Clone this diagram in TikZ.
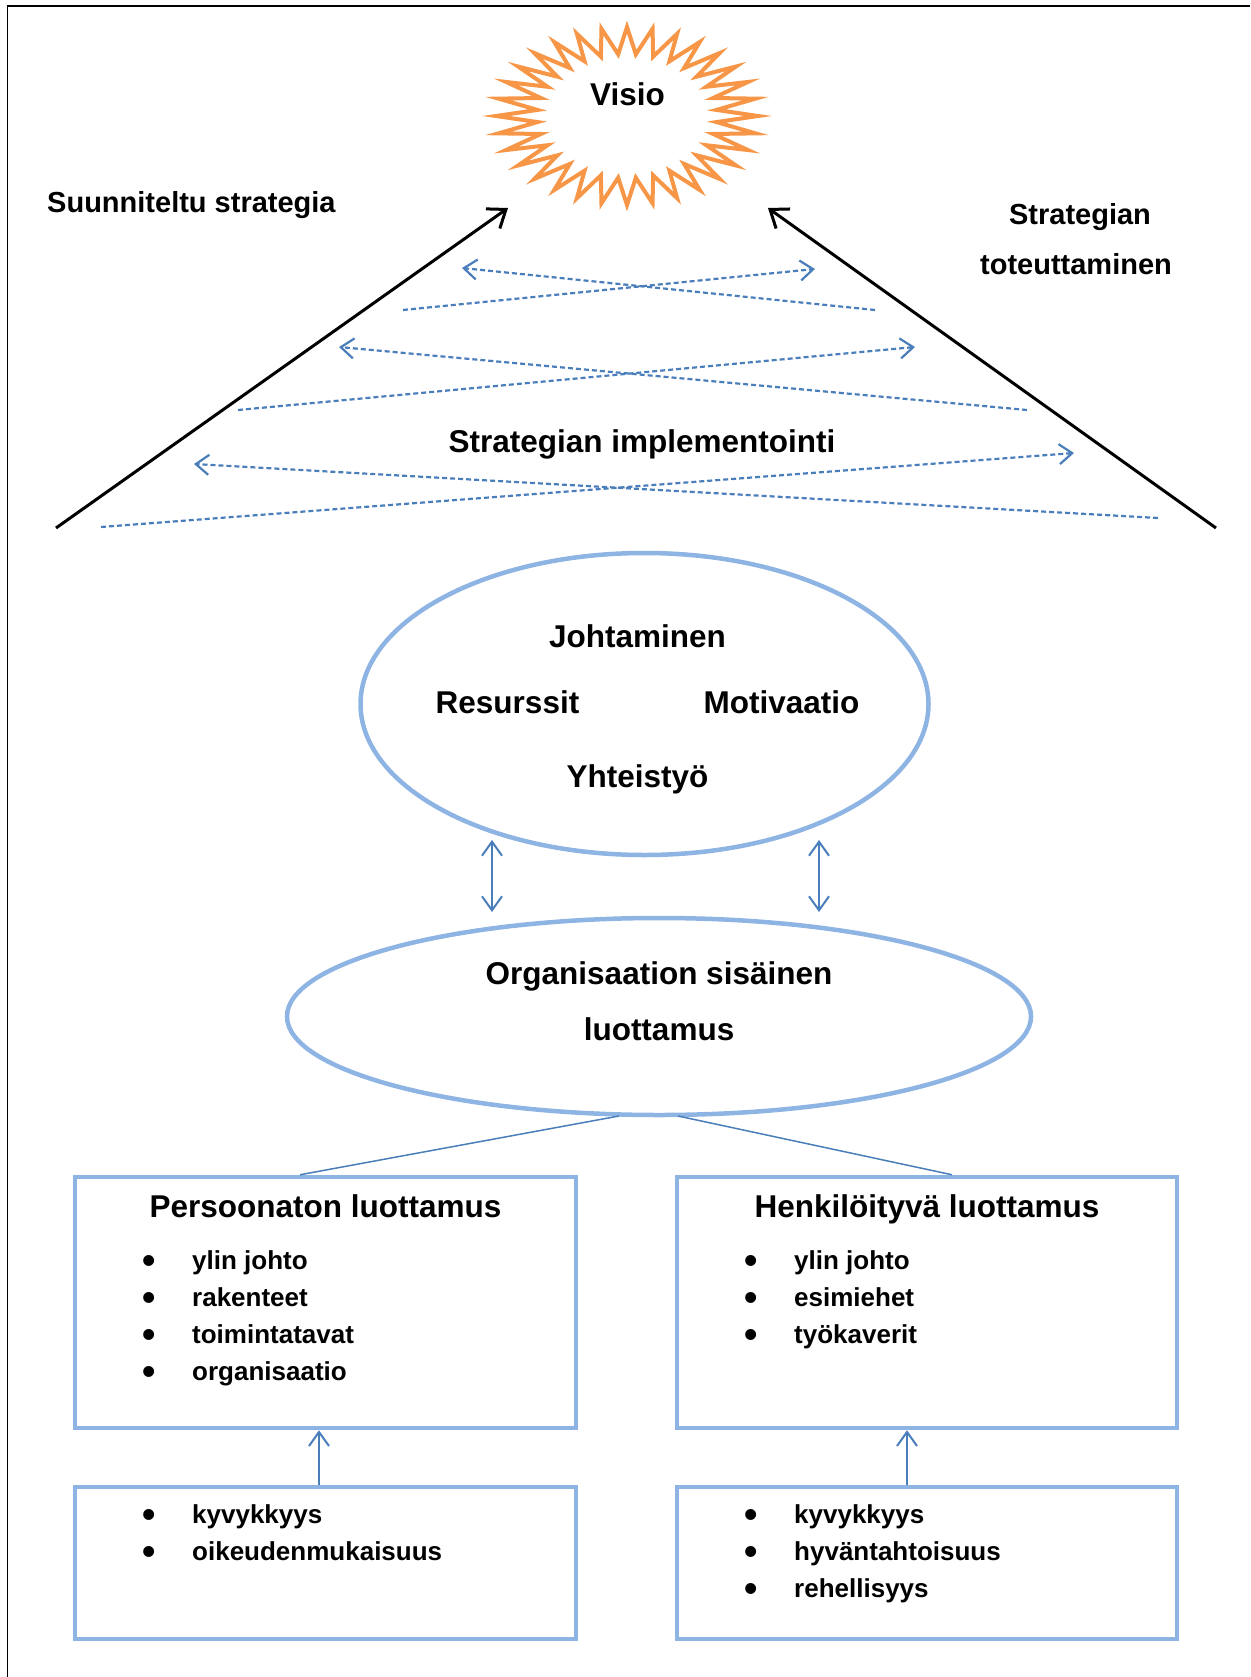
\documentclass[tikz,border=0pt]{standalone}
\usepackage{fontspec}
\setmainfont{Liberation Sans}
\usepackage{tikz}
\usetikzlibrary{shapes,arrows.meta,positioning,calc}

\definecolor{lineblue}{RGB}{74,126,187}
\definecolor{paleblue}{RGB}{142,180,227}
\definecolor{burstorange}{RGB}{247,150,70}

\newcommand{\dotmark}{\makebox[49.7pt][l]{\raisebox{-4.5pt}{\fontsize{38}{38}\selectfont\textbullet}}}

\begin{document}
\begin{tikzpicture}[x=1pt, y=-1pt,
    heading/.style={font=\fontsize{31.5}{38}\selectfont\bfseries, inner sep=0, anchor=base},
    sidetext/.style={font=\fontsize{29}{35}\selectfont\bfseries, inner sep=0, anchor=base},
    item/.style={font=\fontsize{26}{31}\selectfont\bfseries, inner sep=0, anchor=base west},
    oval/.style={ellipse, draw=paleblue, line width=4.5pt, inner sep=0},
    panel/.style={rectangle, draw=paleblue, line width=4.5pt, inner sep=0},
    strategy/.style={-{Straight Barb[length=16pt, width=24pt]}, line width=3pt},
    dasharrow/.style={-{Straight Barb[length=13pt, width=20pt]}, draw=lineblue, line width=2.2pt, dash pattern=on 5pt off 3pt},
    both/.style={{Straight Barb[length=14pt, width=20pt]}-{Straight Barb[length=14pt, width=20pt]}, draw=lineblue, line width=2pt},
    up/.style={-{Straight Barb[length=14pt, width=20pt]}, draw=lineblue, line width=2pt},
    conn/.style={draw=lineblue, line width=1.5pt}
]
\useasboundingbox (0,0) rectangle (1250,1677);
\draw[line width=1.5pt] (1250,6) -- (7.5,6) -- (7.5,1677);

\coordinate (burst) at (627,116);
\draw[burstorange, line width=4pt, line join=miter] ($(burst)+(0:131 and 89)$)
  \foreach \k [evaluate=\k as \rx using {mod(\k,2)==0 ? 131 : 90},
               evaluate=\k as \ry using {mod(\k,2)==0 ? 89 : 62}] in {1,...,63}
  { -- ($(burst)+({\k*5.625}:{\rx} and {\ry})$) } -- cycle;
\node[heading] (visio) at (627.5,106) {Visio};

\coordinate (planfoot) at (56,528);
\coordinate (plantip) at (508,208);
\coordinate (dofoot) at (1216,528);
\coordinate (dotip) at (768,208);
\draw[strategy] (planfoot) -- (plantip);
\draw[strategy] (dofoot) -- (dotip);

\node[sidetext, anchor=base west] (planned) at (47,213) {Suunniteltu strategia};
\node[sidetext] (done1) at (1080,225) {Strategian};
\node[sidetext] (done2) at (1076,275) {toteuttaminen};

\coordinate (a1) at (875,310);  \coordinate (b1) at (462,268);
\coordinate (c1) at (403,310);  \coordinate (e1) at (815,269);
\coordinate (a2) at (1027,410); \coordinate (b2) at (339,347);
\coordinate (c2) at (238,410);  \coordinate (e2) at (915,347);
\coordinate (a3) at (1158,518); \coordinate (b3) at (194,464);
\coordinate (c3) at (101,527);  \coordinate (e3) at (1074,453);
\foreach \i in {1,2,3} {
  \draw[dasharrow] (a\i) -- (b\i);
  \draw[dasharrow] (c\i) -- (e\i);
}
\node[heading] (impl) at (642,452) {Strategian implementointi};

\node[oval, minimum width=568pt, minimum height=302pt] (core) at (644.5,704) {};
\node[heading] (lead) at (637.5,647) {Johtaminen};
\node[heading] (res) at (507.5,713) {Resurssit};
\node[heading] (motiv) at (781.5,713) {Motivaatio};
\node[heading] (coop) at (637.5,787) {Yhteistyö};

\coordinate (u1) at (492,840); \coordinate (d1) at (492,912);
\coordinate (u2) at (819,840); \coordinate (d2) at (819,912);
\draw[both] (u1) -- (d1);
\draw[both] (u2) -- (d2);

\node[oval, minimum width=744pt, minimum height=197pt] (trust) at (659,1016.5) {};
\node[heading] (trust1) at (659,984) {Organisaation sisäinen};
\node[heading] (trust2) at (659,1040) {luottamus};

\node[panel, minimum width=501pt, minimum height=251pt] (impers) at (325.5,1302.5) {};
\node[panel, minimum width=500pt, minimum height=251pt] (pers) at (927,1302.5) {};
\node[panel, minimum width=501pt, minimum height=152pt] (impbase) at (325.5,1563) {};
\node[panel, minimum width=500pt, minimum height=152pt] (perbase) at (927,1563) {};

\coordinate (o1) at (619,1116);
\coordinate (o2) at (678,1116);
\draw[conn] (o1) -- ([xshift=-25.5pt]impers.north);
\draw[conn] (o2) -- ([xshift=25pt]pers.north);

\node[heading] (imptitle) at (325.5,1217) {Persoonaton luottamus};
\node[heading] (pertitle) at (927,1217) {Henkilöityvä luottamus};

\foreach \t [count=\i] in {ylin johto, rakenteet, toimintatavat, organisaatio}
  \node[item] (imp\i) at (142.3,{1232+37*\i}) {\dotmark\t};
\foreach \t [count=\i] in {ylin johto, esimiehet, työkaverit}
  \node[item] (per\i) at (744.3,{1232+37*\i}) {\dotmark\t};
\foreach \t [count=\i] in {kyvykkyys, oikeudenmukaisuus}
  \node[item] (impb\i) at (142.3,{1486+37*\i}) {\dotmark\t};
\foreach \t [count=\i] in {kyvykkyys, hyväntahtoisuus, rehellisyys}
  \node[item] (perb\i) at (744.3,{1486+37*\i}) {\dotmark\t};

\draw[up] ([xshift=-6.5pt]impbase.north) -- ([xshift=-6.5pt]impers.south);
\draw[up] ([xshift=-20pt]perbase.north) -- ([xshift=-20pt]pers.south);

\end{tikzpicture}
\end{document}
